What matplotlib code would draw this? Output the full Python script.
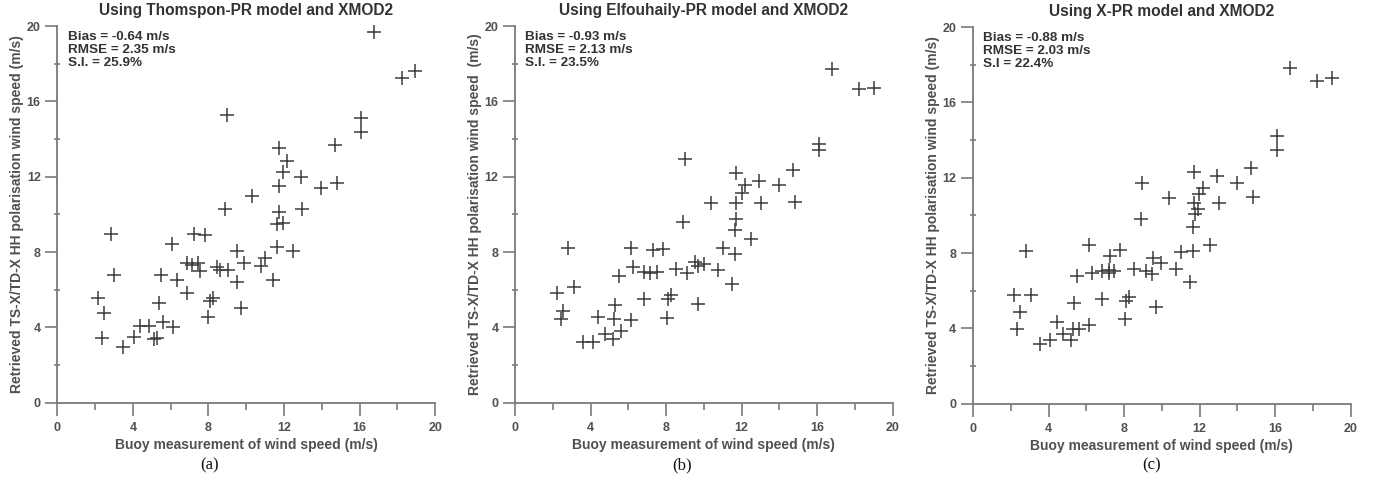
import matplotlib
matplotlib.use('Agg')
import matplotlib.pyplot as plt
from matplotlib.ticker import MultipleLocator

plt.rcParams['font.family'] = ['Liberation Sans', 'DejaVu Sans']

# Panel (a): Thomspon-PR
buoy_a = [16.76, 18.25, 18.96, 8.96, 16.10, 16.10, 14.69, 11.75, 12.17, 11.96,
          12.91, 11.75, 13.97, 14.83, 10.32, 8.86, 12.98, 11.75, 11.61, 11.93,
          2.83, 6.05, 7.23, 7.80, 9.51, 11.61, 12.49, 3.00, 5.47, 6.32,
          6.85, 7.11, 7.46, 7.55, 6.85, 8.43, 8.61, 9.05, 9.89, 9.49,
          10.76, 10.99, 11.40, 9.72, 2.14, 2.49, 2.38, 3.49, 4.06, 4.38,
          4.85, 5.12, 5.26, 5.37, 5.61, 6.11, 7.99, 8.08, 8.25]
sar_a = [19.67, 17.26, 17.62, 15.26, 15.12, 14.36, 13.67, 13.51, 12.85, 12.25,
         11.97, 11.51, 11.42, 11.65, 10.98, 10.29, 10.29, 10.13, 9.49, 9.56,
         8.94, 8.43, 8.94, 8.90, 8.04, 8.25, 8.07, 6.78, 6.78, 6.52,
         7.44, 7.31, 7.40, 7.01, 5.84, 7.19, 7.05, 7.05, 7.44, 6.43,
         7.28, 7.67, 6.52, 5.01, 5.56, 4.78, 3.44, 2.97, 3.51, 4.09,
         4.09, 3.36, 3.45, 5.31, 4.30, 4.00, 4.53, 5.42, 5.54]

# Panel (b): Elfouhaily-PR
buoy_b = [16.77, 18.23, 19.01, 8.99, 16.10, 16.10, 14.74, 11.72, 12.92, 12.18,
          12.00, 14.00, 10.38, 11.72, 13.03, 14.84, 8.88, 11.72, 11.63, 12.50,
          2.79, 6.13, 7.29, 7.82, 11.03, 11.67, 6.27, 5.52, 6.85, 7.15,
          7.50, 8.51, 9.09, 9.53, 9.71, 10.03, 10.77, 11.47, 3.12, 2.21,
          2.53, 2.42, 4.38, 5.30, 5.24, 6.13, 6.85, 8.03, 8.12, 8.24,
          9.71, 3.58, 4.11, 4.77, 5.17, 5.60]
sar_b = [17.74, 16.63, 16.71, 12.94, 13.72, 13.40, 12.34, 12.22, 11.76, 11.55,
         11.11, 11.55, 10.61, 10.58, 10.61, 10.65, 9.57, 9.75, 9.15, 8.70,
         8.24, 8.19, 8.10, 8.14, 8.19, 7.89, 7.18, 6.72, 6.95, 6.86,
         6.92, 7.08, 6.86, 7.45, 7.25, 7.34, 7.04, 6.30, 6.15, 5.80,
         4.86, 4.42, 4.56, 5.20, 4.44, 4.39, 5.49, 4.51, 5.49, 5.71,
         5.22, 3.20, 3.20, 3.63, 3.38, 3.80]

# Panel (c): X-PR
buoy_c = [16.79, 18.23, 19.03, 16.11, 16.11, 14.72, 11.72, 12.90, 14.00, 8.97,
          12.20, 11.97, 10.38, 14.84, 13.03, 11.70, 11.93, 11.74, 8.88, 11.65,
          6.14, 12.53, 2.79, 7.25, 7.78, 9.55, 11.00, 11.65, 9.98, 6.29,
          5.49, 6.85, 7.20, 7.47, 7.20, 8.53, 9.14, 9.49, 10.77, 11.47,
          2.17, 3.06, 2.49, 2.35, 5.35, 6.81, 8.26, 8.12, 8.05, 9.71,
          4.43, 6.14, 3.53, 4.08, 4.78, 5.17, 5.30, 5.61]
sar_c = [17.81, 17.16, 17.30, 14.20, 13.46, 12.49, 12.28, 12.09, 11.73, 11.73,
         11.47, 11.12, 10.91, 10.98, 10.64, 10.64, 10.32, 10.06, 9.80, 9.39,
         8.44, 8.44, 8.09, 7.86, 8.18, 7.74, 8.04, 8.12, 7.47, 6.94,
         6.79, 7.03, 7.10, 7.07, 6.92, 7.16, 7.03, 6.89, 7.16, 6.45,
         5.75, 5.75, 4.86, 3.98, 5.34, 5.57, 5.69, 5.44, 4.51, 5.16,
         4.33, 4.16, 3.16, 3.37, 3.72, 3.37, 3.98, 3.95]

titles = ['Using Thomspon-PR model and XMOD2',
          'Using Elfouhaily-PR model and XMOD2',
          'Using X-PR model and XMOD2']
stats = ['Bias = -0.64 m/s\nRMSE = 2.35 m/s\nS.I. = 25.9%',
         'Bias = -0.93 m/s\nRMSE = 2.13 m/s\nS.I. = 23.5%',
         'Bias = -0.88 m/s\nRMSE = 2.03 m/s\nS.I = 22.4%']
ylabels = ['Retrieved TS-X/TD-X HH polarisation wind speed (m/s)',
           'Retrieved TS-X/TD-X HH polarisation wind speed  (m/s)',
           'Retrieved TS-X/TD-X HH polarisation wind speed (m/s)']
panel_tags = ['(a)', '(b)', '(c)']

xs = [buoy_a, buoy_b, buoy_c]
ys = [sar_a, sar_b, sar_c]

fig = plt.figure(figsize=(13.79, 4.79), dpi=100)

lefts = [0.0416, 0.3735, 0.7056]
bottoms = [0.1593, 0.1593, 0.1572]
tag_x = [210, 682, 1152]

for i in range(3):
    ax = fig.add_axes([lefts[i], bottoms[i], 0.2739, 0.7864])
    ax.plot(xs[i], ys[i], '+', color='#3c3c3c', markersize=10, markeredgewidth=1.1,
            clip_on=False)
    ax.set_xlim(0, 20)
    ax.set_ylim(0, 20)
    for s in ['top', 'right']:
        ax.spines[s].set_visible(False)
    for s in ['left', 'bottom']:
        ax.spines[s].set_color('#7a7a7a')
        ax.spines[s].set_linewidth(1.3)
    ax.xaxis.set_major_locator(MultipleLocator(4))
    ax.xaxis.set_minor_locator(MultipleLocator(2))
    ax.yaxis.set_major_locator(MultipleLocator(4))
    ax.yaxis.set_minor_locator(MultipleLocator(2))
    ax.tick_params(which='major', length=9, width=1.2, color='#7a7a7a',
                   labelsize=9, labelcolor='#505050', pad=3)
    ax.tick_params(axis='x', which='major', pad=5)
    ax.tick_params(axis='x', which='minor', length=5, width=1.2, color='#7a7a7a')
    ax.tick_params(axis='y', which='minor', length=5, width=1.2, color='#7a7a7a',
                   direction='inout')
    for lab in ax.get_xticklabels() + ax.get_yticklabels():
        lab.set_fontweight('bold')
    ax.set_xlabel('Buoy measurement of wind speed (m/s)', fontsize=10,
                  fontweight='bold', color='#505050', labelpad=3)
    ax.set_ylabel(ylabels[i], fontsize=10, fontweight='bold', color='#505050',
                  labelpad=2)
    ax.set_title(titles[i], fontsize=11.2, fontweight='bold', color='#333333', pad=8)
    ax.text(0.55, 19.75, stats[i], fontsize=9.7, fontweight='bold', color='#333333',
            va='top', ha='left', linespacing=1.12)
    fig.text(tag_x[i] / 1379, 1 - 465 / 479, panel_tags[i], fontsize=12,
             family='Liberation Serif', ha='center', va='center', color='#111111')

fig.savefig('out.png', dpi=100)
